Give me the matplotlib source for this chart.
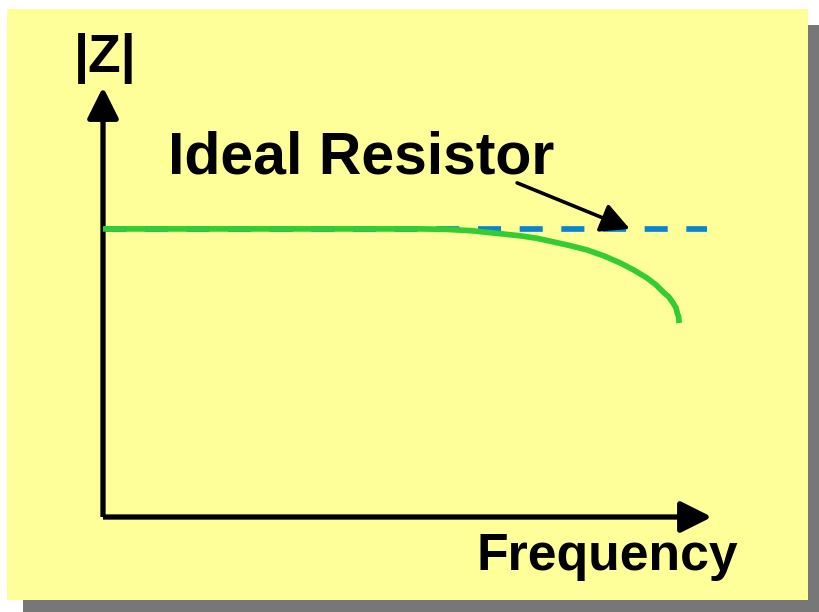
import matplotlib
matplotlib.use("Agg")
import matplotlib.pyplot as plt
from matplotlib.patches import Rectangle

plt.rcParams['font.family'] = ['Liberation Sans', 'DejaVu Sans']
plt.rcParams['lines.scale_dashes'] = False

# --- dados (unidades arbitrárias, eixo 0..10) ---
freq_real = [0.0, 5.21, 5.62, 6.03, 6.44, 6.85, 7.13, 7.39, 7.67, 7.95, 8.23,
             8.49, 8.72, 8.93, 9.08, 9.20, 9.29, 9.36, 9.41, 9.43, 9.45, 9.46]
z_real = [6.70, 6.70, 6.69, 6.66, 6.60, 6.54, 6.48, 6.40, 6.31, 6.21, 6.07,
          5.91, 5.74, 5.56, 5.40, 5.23, 5.12, 4.98, 4.86, 4.74, 4.67, 4.51]
freq_ideal = [0.0, 9.92]
z_ideal = [6.70, 6.70]

titulo_y = "|Z|"
titulo_x = "Frequency"
rotulo = "Ideal Resistor"

W, H = 819, 612
fig = plt.figure(figsize=(W / 100, H / 100), dpi=100)
fig.patch.set_facecolor('white')

# fundo: sombra + caixa amarela (coordenadas em pixels)
bg = fig.add_axes([0, 0, 1, 1])
bg.set_xlim(0, W)
bg.set_ylim(H, 0)
bg.axis('off')
bg.add_patch(Rectangle((23, 25), 796, 587, facecolor='#777777', edgecolor='none'))
bg.add_patch(Rectangle((7, 9), 801, 591, facecolor='#ffff99', edgecolor='none'))

bg.text(74, 72, titulo_y, fontsize=38.5, fontweight='bold', ha='left', va='baseline')
bg.text(168, 174, rotulo, fontsize=42.5, fontweight='bold', ha='left', va='baseline')
bg.text(476, 570, titulo_x, fontsize=37.3, fontweight='bold', ha='left', va='baseline')

# eixo do gráfico: origem em (103, 517) px, pontas das setas em (712, 87)
ax = fig.add_axes([103 / W, (H - 517) / H, 609 / W, 430 / H])
ax.set_xlim(0, 10)
ax.set_ylim(0, 10)
ax.patch.set_alpha(0)
for s in ax.spines.values():
    s.set_visible(False)
ax.set_xticks([])
ax.set_yticks([])

seta = dict(arrowstyle='-|>,head_length=19,head_width=9.5', mutation_scale=1,
            color='black', lw=3.8, shrinkA=0, shrinkB=0, capstyle='butt')
ax.annotate('', xy=(0, 1), xytext=(0, 0), xycoords='axes fraction',
            textcoords='axes fraction', arrowprops=seta, annotation_clip=False)
ax.annotate('', xy=(1, 0), xytext=(0, 0), xycoords='axes fraction',
            textcoords='axes fraction', arrowprops=seta, annotation_clip=False)

ax.plot(freq_ideal, z_ideal, color='#0a84d0', lw=4.1, dashes=(16.6, 13.4), zorder=2)
ax.plot(freq_real, z_real, color='#33cc33', lw=4.1, solid_capstyle='butt',
        solid_joinstyle='round', zorder=3)

ax.annotate('', xy=(8.65, 6.70), xytext=(6.80, 7.77),
            arrowprops=dict(arrowstyle='-|>,head_length=17.5,head_width=9', mutation_scale=1,
                            color='black', lw=2.6, shrinkA=0, shrinkB=0),
            zorder=4, annotation_clip=False)

fig.savefig('out.png', dpi=100)
